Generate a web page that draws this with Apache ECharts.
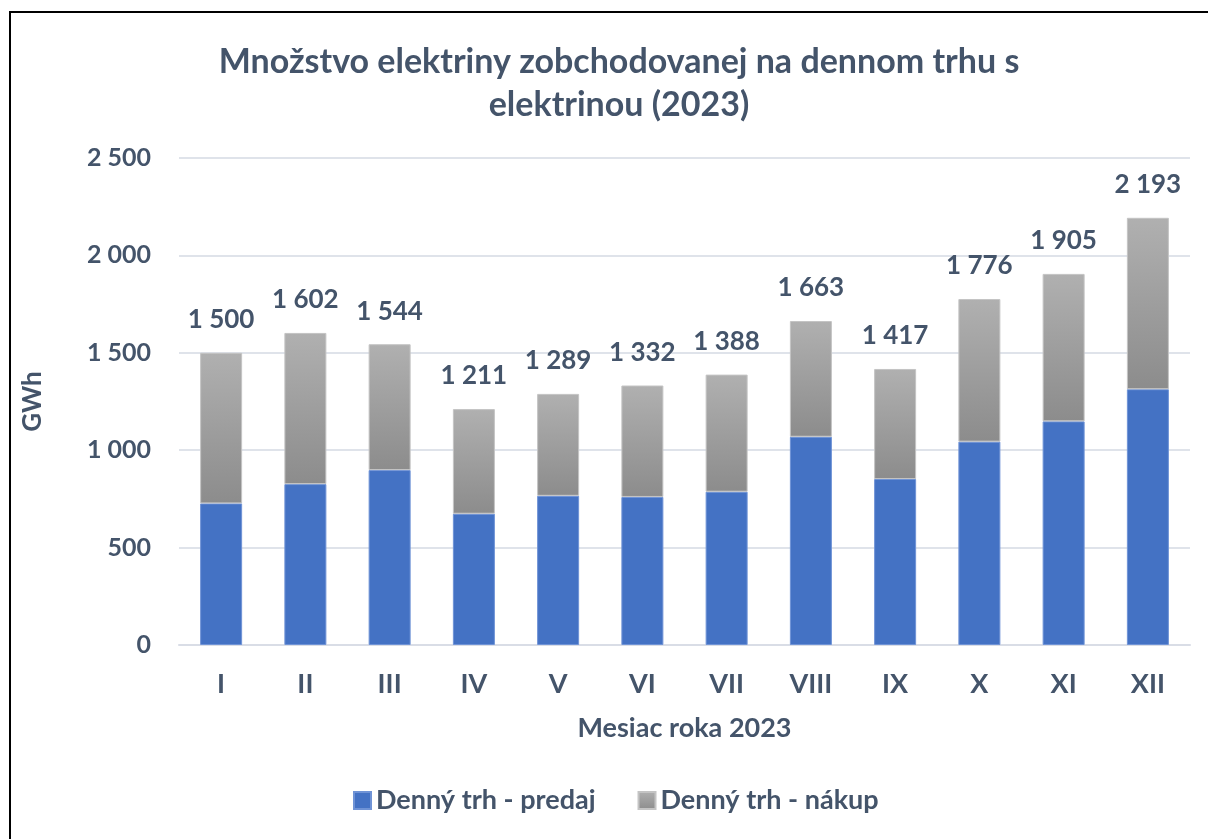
<!DOCTYPE html>
<html>
<head>
<meta charset="utf-8">
<script src="https://cdn.jsdelivr.net/npm/echarts@6/dist/echarts.min.js"></script>
<style>
  html, body { margin: 0; padding: 0; background: #fff; overflow: hidden; }
  #frame { position: absolute; left: 9px; top: 11px; width: 1300px; height: 900px; border: 2px solid #000; box-sizing: border-box; }
  #chart { position: absolute; left: 0; top: 0; width: 1208px; height: 839px; }
</style>
</head>
<body>
<div id="frame"></div>
<div id="chart"></div>
<script>
  var months = ['I', 'II', 'III', 'IV', 'V', 'VI', 'VII', 'VIII', 'IX', 'X', 'XI', 'XII'];
  var predaj = [727, 826, 898, 674, 766, 760, 787, 1069, 852, 1044, 1148, 1313];
  var totals = [1500, 1602, 1544, 1211, 1289, 1332, 1388, 1663, 1417, 1776, 1905, 2193];
  var nakup = totals.map(function (t, i) { return t - predaj[i]; });

  var textColor = '#44546a';
  var font = 'Lato, "Open Sans", sans-serif';

  function fmt(v) {
    return String(v).replace(/\B(?=(\d{3})+(?!\d))/g, ' ');
  }

  var chart = echarts.init(document.getElementById('chart'));
  chart.setOption({
    animation: false,
    textStyle: { fontFamily: font, color: textColor, fontWeight: 'bold' },
    title: {
      text: 'Množstvo elektriny zobchodovanej na dennom trhu s\nelektrinou (2023)',
      left: 614,
      top: 36,
      textAlign: 'center',
      textStyle: { fontSize: 34, fontWeight: 'bold', color: textColor, lineHeight: 43, fontFamily: font }
    },
    grid: { left: 179, right: 18, top: 158, bottom: 194 },
    legend: {
      bottom: 20,
      left: 348,
      icon: 'rect',
      itemWidth: 17,
      itemHeight: 17,
      itemGap: 42,
      textStyle: { fontSize: 27, color: textColor, fontWeight: 'bold', fontFamily: font, padding: [0, 0, 0, 0] },
      data: ['Denný trh - predaj', 'Denný trh - nákup']
    },
    xAxis: {
      type: 'category',
      data: months,
      name: 'Mesiac roka 2023',
      nameLocation: 'middle',
      nameGap: 70,
      nameTextStyle: { fontSize: 27, color: textColor, fontWeight: 'bold' },
      axisTick: { show: false },
      axisLine: { lineStyle: { color: '#d9dde6', width: 2 } },
      axisLabel: { fontSize: 27, color: textColor, fontWeight: 'bold', margin: 26 }
    },
    yAxis: {
      type: 'value',
      min: 0,
      max: 2500,
      interval: 500,
      name: 'GWh',
      nameLocation: 'middle',
      nameGap: 133,
      nameRotate: 90,
      nameTextStyle: { fontSize: 26, color: textColor, fontWeight: 'bold' },
      axisLabel: { fontSize: 25, color: textColor, fontWeight: 'bold', margin: 28, formatter: fmt },
      splitLine: { lineStyle: { color: '#dfe3ea', width: 2 } },
      axisLine: { show: false },
      axisTick: { show: false }
    },
    series: [
      {
        name: 'Denný trh - predaj',
        type: 'bar',
        stack: 'total',
        barWidth: 42,
        data: predaj,
        itemStyle: { color: '#4472c4', borderColor: '#6f93d6', borderWidth: 1 }
      },
      {
        name: 'Denný trh - nákup',
        type: 'bar',
        stack: 'total',
        barWidth: 42,
        data: nakup,
        itemStyle: {
          color: new echarts.graphic.LinearGradient(0, 0, 0, 1, [
            { offset: 0, color: '#b0b0b0' },
            { offset: 1, color: '#8c8c8c' }
          ]),
          borderColor: '#c4c4c4',
          borderWidth: 1
        },
        label: {
          show: true,
          position: 'top',
          distance: 20,
          fontSize: 26,
          fontWeight: 'bold',
          color: textColor,
          formatter: function (p) { return fmt(totals[p.dataIndex]); }
        }
      }
    ]
  });
</script>
</body>
</html>
